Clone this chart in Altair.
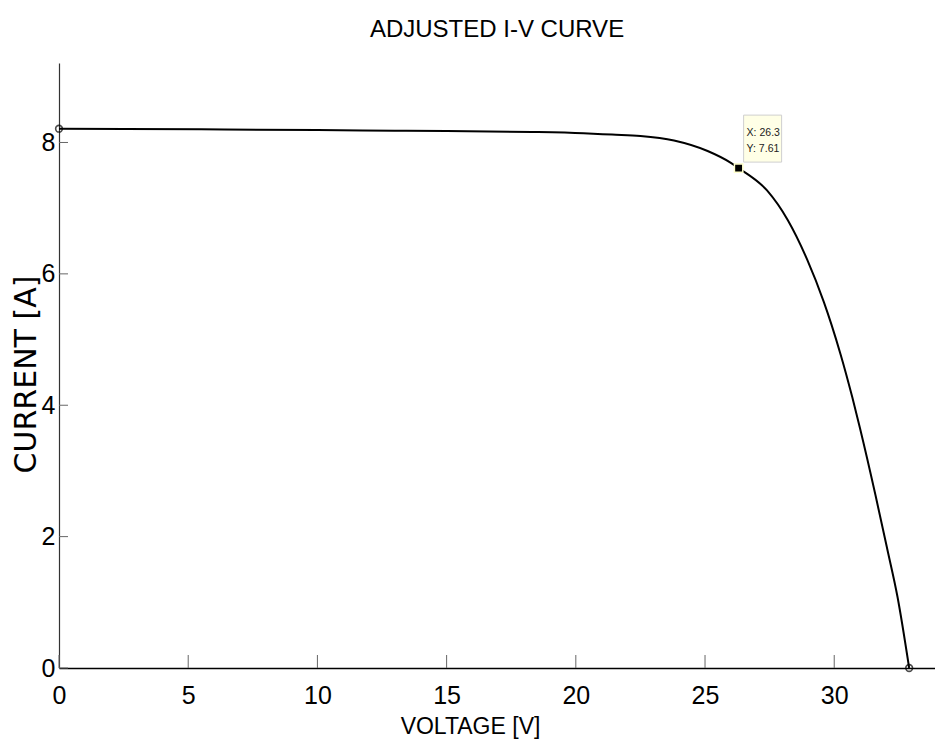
import altair as alt
import pandas as pd

# ---- data ----
voltage = [0, 5.5, 10, 13, 15, 18.3, 20.3, 21.4, 22.5, 23.8, 25.1, 26.0, 26.3,
           27.4, 28.2, 28.95, 29.6, 29.9, 30.25, 30.7, 31.0, 31.6, 32.05, 32.45, 32.9]
current = [8.21, 8.20, 8.19, 8.18, 8.175, 8.16, 8.14, 8.12, 8.10, 8.03, 7.87, 7.69, 7.61,
           7.27, 6.82, 6.22, 5.57, 5.22, 4.77, 4.12, 3.645, 2.625, 1.815, 1.08, 0.0]
end_v = [0, 32.9]
end_i = [8.21, 0.0]
tip_v = [26.3]
tip_i = [7.61]
x_ticks = [0, 5, 10, 15, 20, 25, 30]
y_ticks = [0, 2, 4, 6, 8]
x_domain = [0, 33.9]
y_domain = [0, 9.21]

NARROW = "Liberation Sans Narrow, Arial Narrow, Liberation Sans, Arial, sans-serif"
WIDE = "DejaVu Sans, Arial, sans-serif"

curve = pd.DataFrame({"V": voltage, "I": current})
ends = pd.DataFrame({"V": end_v, "I": end_i})
tip = pd.DataFrame({"V": tip_v, "I": tip_i,
                    "lx": [f"X: {v}" for v in tip_v],
                    "ly": [f"Y: {i}" for i in tip_i]})
xt = pd.DataFrame({"V": x_ticks})
yt = pd.DataFrame({"I": y_ticks})

xscale = alt.Scale(domain=x_domain, nice=False, zero=False)
yscale = alt.Scale(domain=y_domain, nice=False, zero=False)

xaxis = alt.Axis(values=x_ticks, format="d", ticks=False, grid=False, labelFlush=False,
                 labelFont=NARROW, labelFontSize=25, labelColor="black", labelPadding=15,
                 domainColor="black", domainWidth=1.5,
                 title="VOLTAGE [V]", titleFont=NARROW, titleFontSize=23,
                 titleFontWeight="normal", titleColor="black",
                 titleX=411, titleY=65, titleBaseline="alphabetic", titleAlign="center")
yaxis = alt.Axis(values=y_ticks, format="d", ticks=False, grid=False,
                 labelFont=NARROW, labelFontSize=25, labelColor="black", labelPadding=4,
                 domainColor="#333333", domainWidth=1.2,
                 title="CURRENT [A]", titleFont=WIDE, titleFontSize=30,
                 titleFontWeight="normal", titleColor="black", titleAngle=270,
                 titleX=-24, titleY=311, titleBaseline="alphabetic", titleAlign="center")

X = alt.X("V:Q", scale=xscale, title="VOLTAGE [V]")
Y = alt.Y("I:Q", scale=yscale, title="CURRENT [A]")

line = alt.Chart(curve).mark_line(color="black", strokeWidth=2, interpolate="monotone").encode(
    x=alt.X("V:Q", scale=xscale, axis=xaxis),
    y=alt.Y("I:Q", scale=yscale, axis=yaxis),
)

xtick_rules = alt.Chart(xt).mark_rule(color="#666666", strokeWidth=1).encode(
    x=X, y=alt.value(605), y2=alt.value(592),
)
ytick_rules = alt.Chart(yt).mark_rule(color="#666666", strokeWidth=1).encode(
    y=Y, x=alt.value(0), x2=alt.value(9),
)

end_pts = alt.Chart(ends).mark_point(shape="circle", filled=False, color="black",
                                     strokeWidth=1.6, size=45).encode(x=X, y=Y)

box = alt.Chart(tip).mark_rect(fill="#ffffe6", stroke="#cfcfcf", strokeWidth=1,
                               xOffset=5, x2Offset=43, yOffset=-53, y2Offset=-6).encode(
    x=X, x2="V:Q", y=Y, y2="I:Q",
)
txt1 = alt.Chart(tip).mark_text(font=NARROW, fontSize=10.5, color="#222222", align="left",
                                baseline="alphabetic", dx=8, dy=-32).encode(
    x=X, y=Y, text="lx:N",
)
txt2 = alt.Chart(tip).mark_text(font=NARROW, fontSize=10.5, color="#222222", align="left",
                                baseline="alphabetic", dx=8, dy=-16).encode(
    x=X, y=Y, text="ly:N",
)
marker = alt.Chart(tip).mark_point(shape="square", filled=True, fill="black",
                                   stroke="#ffffcc", strokeWidth=1.5, size=70, opacity=1).encode(
    x=X, y=Y,
)

chart = alt.layer(line, xtick_rules, ytick_rules, end_pts, box, txt1, txt2, marker).properties(
    width=876, height=605,
    title=alt.TitleParams("ADJUSTED I-V CURVE", font=NARROW, fontSize=24, fontWeight="normal",
                          color="black", anchor="middle", frame="group",
                          baseline="alphabetic", offset=2),
    autosize=alt.AutoSizeParams(type="none"),
    padding={"left": 59, "top": 63, "right": 0, "bottom": 81},
    background="white",
).configure_view(stroke=None)

chart.save("out.html", embed_options={"renderer": "svg", "actions": False})
